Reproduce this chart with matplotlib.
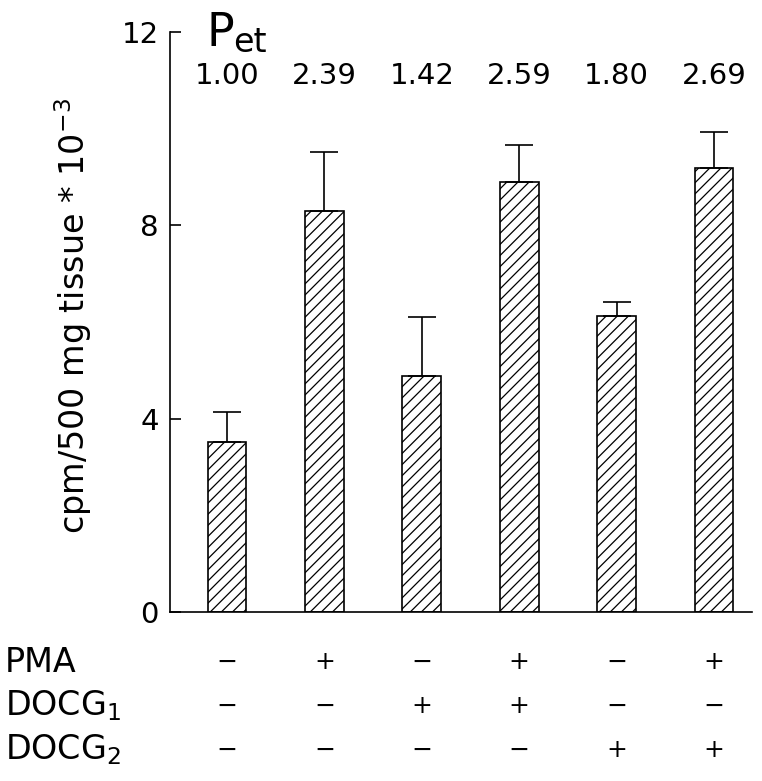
import numpy as np
import matplotlib
matplotlib.use("Agg")
import matplotlib.pyplot as plt
from matplotlib import transforms

# data
means = [3.52, 8.30, 4.88, 8.90, 6.12, 9.19]
errs = [0.62, 1.22, 1.22, 0.76, 0.29, 0.74]
ratios = ["1.00", "2.39", "1.42", "2.59", "1.80", "2.69"]
row_names = ["PMA", "DOCG$_1$", "DOCG$_2$"]
pma = ["-", "+", "-", "+", "-", "+"]
docg1 = ["-", "-", "+", "+", "-", "-"]
docg2 = ["-", "-", "-", "-", "+", "+"]
yticks = [0, 4, 8, 12]

plt.rcParams['font.family'] = ['DejaVu Sans']
plt.rcParams['hatch.linewidth'] = 0.9
plt.rcParams['mathtext.fontset'] = 'dejavusans'

fig = plt.figure(figsize=(7.62, 7.81), dpi=100)
ax = fig.add_axes([170/762, 1 - 612/781, (752-170)/762, (612-32)/781])

x = np.arange(len(means))
ax.bar(x, means, width=0.4, color='white', edgecolor='black', hatch='///', linewidth=1.2, zorder=2)
ax.errorbar(x, means, yerr=[np.zeros(len(errs)), errs], fmt='none', ecolor='black',
            elinewidth=1.2, capsize=10, capthick=1.2, zorder=3)

ax.set_xlim(-0.585, 5.39)
ax.set_ylim(0, 12)
ax.spines['top'].set_visible(False)
ax.spines['right'].set_visible(False)
ax.spines['left'].set_linewidth(1.2)
ax.spines['bottom'].set_linewidth(1.2)
ax.set_xticks([])
ax.set_yticks(yticks)
ax.set_yticklabels([str(t) for t in yticks], fontsize=21)
ax.tick_params(axis='y', direction='in', length=8, width=1.2, pad=8)

ax.set_ylabel("cpm/500 mg tissue * 10$^{-3}$", fontsize=24)
ax.yaxis.set_label_coords(-0.13, 0.51)

# ratio labels above bars
for i, r in enumerate(ratios):
    ax.text(x[i], 11.1, r, ha='center', va='center', fontsize=21, clip_on=False)

ax.text(-0.21, 11.7, "P", fontsize=33, ha='left', va='baseline')
ax.text(0.06, 11.58, "et", fontsize=24, ha='left', va='baseline')

# treatment table below the axis
trans = transforms.blended_transform_factory(ax.transData, fig.transFigure)
rows_y = [1 - 662/781, 1 - 706/781, 1 - 750/781]
for name, signs, yy in zip(row_names, [pma, docg1, docg2], rows_y):
    fig.text(5/762, yy, name, fontsize=24, ha='left', va='center')
    for i, s in enumerate(signs):
        lab = '+' if s == '+' else '\u2212'
        ax.text(x[i], yy, lab, transform=trans, fontsize=18, ha='center', va='center', clip_on=False)

fig.savefig("out.png", dpi=100)
